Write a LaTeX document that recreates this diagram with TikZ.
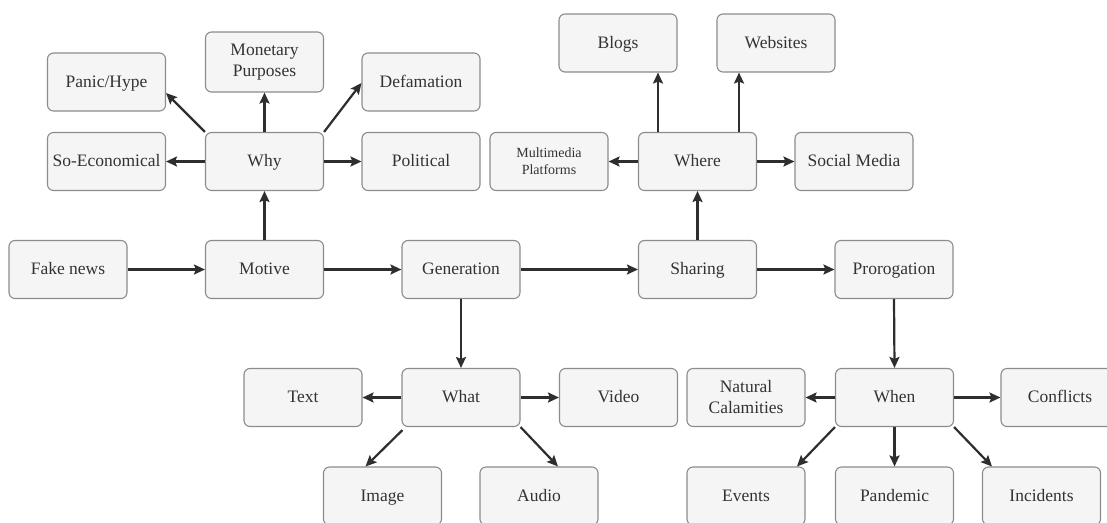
\documentclass[tikz,border=0pt]{standalone}
\usepackage{fontspec}
\setmainfont{Liberation Serif}
\newfontfamily\boxfont{Liberation Serif}
\usetikzlibrary{arrows.meta,calc}
\definecolor{boxfill}{HTML}{F5F5F5}
\definecolor{boxline}{HTML}{8C8C8C}
\definecolor{txt}{HTML}{333333}
\definecolor{arrcol}{HTML}{2E2E2E}
\tikzset{
  box/.style={draw=boxline, line width=1.1pt, fill=boxfill, rounded corners=6pt,
    minimum width=118pt, minimum height=58pt, inner sep=0pt, align=center,
    text=txt, font=\boxfont\fontsize{17.5}{21}\selectfont},
  onebox/.style={box, text height=13pt, text depth=3pt},
  smallbox/.style={box, font=\boxfont\fontsize{14}{17}\selectfont},
  arr/.style={draw=arrcol, line width=2.2pt, -{Stealth[length=11pt,width=10pt,inset=2pt]}}
}
\begin{document}
\begin{tikzpicture}[x=1pt,y=-1pt]
\clip (0,0) rectangle (1107,522);
\fill[white] (0,0) rectangle (1107,522);
% main row
\node[onebox] (fake) at (68,269.5) {Fake news};
\node[onebox] (motive) at (264.5,269.5) {Motive};
\node[onebox] (gen) at (461,269.5) {Generation};
\node[onebox] (sharing) at (697.5,269.5) {Sharing};
\node[onebox] (prorog) at (894,269.5) {Prorogation};
% why
\node[onebox] (why) at (264.5,161.5) {Why};
\node[onebox] (soeco) at (106.5,161.5) {So-Economical};
\node[onebox] (political) at (421,161.5) {Political};
\node[onebox] (panic) at (106.5,82) {Panic/Hype};
\node[box, minimum height=60pt] (monetary) at (264.5,62) {Monetary\\Purposes};
\node[onebox] (defamation) at (421,82) {Defamation};
% where
\node[onebox] (where) at (697.5,161.5) {Where};
\node[smallbox] (multimedia) at (549,161.5) {Multimedia\\Platforms};
\node[onebox] (social) at (854,161.5) {Social Media};
\node[onebox] (blogs) at (618,43) {Blogs};
\node[onebox] (websites) at (776,43) {Websites};
% what
\node[onebox] (what) at (461,397.5) {What};
\node[onebox] (text) at (303,397.5) {Text};
\node[onebox] (video) at (618.5,397.5) {Video};
\node[onebox] (image) at (382.5,496) {Image};
\node[onebox] (audio) at (539,496) {Audio};
% when
\node[onebox] (when) at (894.5,397.5) {When};
\node[box] (natural) at (746,397.5) {Natural\\Calamities};
\node[onebox] (conflicts) at (1060,397.5) {Conflicts};
\node[onebox] (events) at (746,496) {Events};
\node[onebox] (pandemic) at (894.5,496) {Pandemic};
\node[onebox] (incidents) at (1041.5,496) {Incidents};
% connectors main row
\draw[arr] (fake.east) -- (motive.west);
\draw[arr] (motive.east) -- (gen.west);
\draw[arr] (gen.east) -- (sharing.west);
\draw[arr] (sharing.east) -- (prorog.west);
% why
\draw[arr] (motive.north) -- (why.south);
\draw[arr] (why.west) -- (soeco.east);
\draw[arr] (why.east) -- (political.west);
\draw[arr] (why.north) -- (monetary.south);
\draw[arr] (why.north west) -- ([yshift=-11pt]panic.east);
\draw[arr] (why.north east) -- ([yshift=-1pt]defamation.west);
% where
\draw[arr] (sharing.north) -- (where.south);
\draw[arr] (where.west) -- (multimedia.east);
\draw[arr] (where.east) -- (social.west);
\draw[arr] ([xshift=-39.5pt]where.north) -- ([xshift=-39.5pt]where.north |- blogs.south);
\draw[arr] ([xshift=41.5pt]where.north) -- ([xshift=41.5pt]where.north |- websites.south);
% what
\draw[arr] (gen.south) -- (what.north);
\draw[arr] (what.west) -- (text.east);
\draw[arr] (what.east) -- (video.west);
\draw[arr] ([shift={(1pt,-3pt)}]what.south west) -- ([xshift=-17pt]image.north);
\draw[arr] (what.south east) -- ([xshift=19pt]audio.north);
% when
\draw[arr] (prorog.south) -- (when.north);
\draw[arr] (when.west) -- (natural.east);
\draw[arr] (when.east) -- (conflicts.west);
\draw[arr] (when.south) -- (pandemic.north);
\draw[arr] (when.south west) -- ([xshift=51pt]events.north);
\draw[arr] (when.south east) -- ([xshift=-49.5pt]incidents.north);
\end{tikzpicture}
\end{document}
